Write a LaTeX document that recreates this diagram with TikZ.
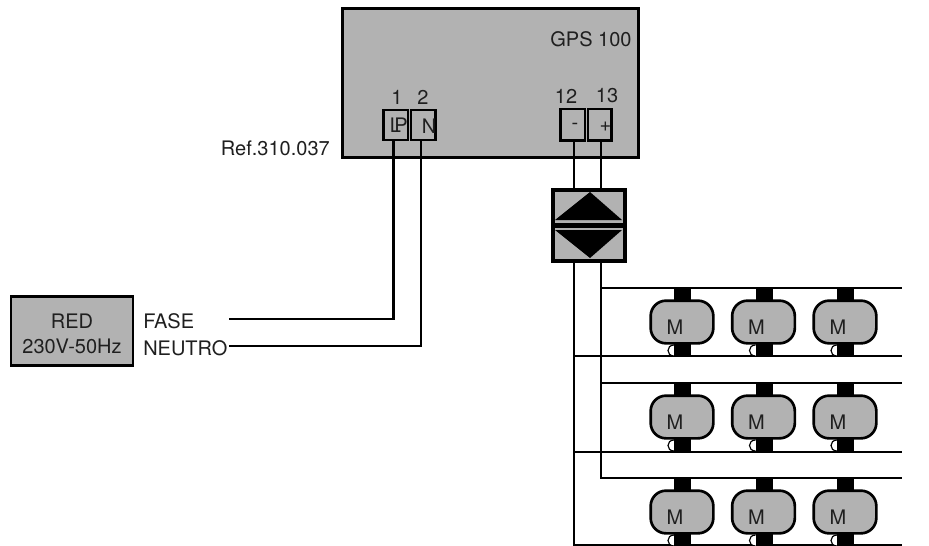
\documentclass[tikz,border=0pt]{standalone}
\usepackage{fontspec}
\setmainfont{TeX Gyre Heros}
\definecolor{panel}{gray}{0.70}
\tikzset{
  x=0.75pt,y=-0.75pt,
  lbl/.style={inner sep=0pt,font=\fontsize{15}{18.75}\selectfont,text=black!88},
  wire/.style={draw=black,line width=1.75pt},
  thinwire/.style={draw=black,line width=1.5pt},
  term/.style={draw=black,line width=1.9pt,fill=panel,inner sep=0pt},
}
\newcommand{\motor}[3]{%
  \draw[black,line width=0.9pt,fill=white] (#2-15.5,#3+57) .. controls (#2-23.5,#3+57) and (#2-23.5,#3+68) .. (#2-15.5,#3+68);
  \fill[black] (#2-15.5,#3) rectangle (#2+1.5,#3+68);
  \node[draw=black,line width=2pt,fill=panel,rounded corners=11.5pt,minimum width=47pt,minimum height=32pt,inner sep=0pt] (#1) at (#2-7.5,#3+34) {};
  \node[lbl] (#1t) at (#2-14.5,#3+39) {M};
}
\begin{document}
\begin{tikzpicture}
\useasboundingbox (0,0) rectangle (929,546);
% main
\node[draw=black,line width=2pt,fill=panel,minimum width=222pt,minimum height=111.5pt,inner sep=0pt] (gps) at (490.5,83) {};
\node[lbl] (gpst) at (591,39) {GPS 100};
\node[lbl,anchor=east] (ref) at (330,148) {Ref.310.037};
\node[lbl] (n1) at (397,97.5) {1};
\node[lbl] (n2) at (423,97.5) {2};
\node[lbl] (n12) at (566,96) {12};
\node[lbl] (n13) at (607,96) {13};
\node[term,minimum width=18.4pt,minimum height=22.5pt] (tp) at (395.7,125) {};
\node[term,minimum width=18.4pt,minimum height=22.5pt] (tn) at (423.2,125) {};
\node[term,minimum width=18.4pt,minimum height=23.6pt] (tm) at (572.7,124.5) {};
\node[term,minimum width=17.6pt,minimum height=23.6pt] (tpl) at (599.7,124.5) {};
\node[lbl] (tl) at (395.5,125.5) {L};
\node[lbl] (tpt) at (401,125.5) {P};
\node[lbl] (tnt) at (429,126) {N};
\node[lbl] (tmt) at (575,126) {-};
\node[lbl] (tplt) at (605.5,127) {+};
% bridge
\node[draw=black,line width=3pt,fill=panel,minimum width=54pt,minimum height=53.25pt,inner sep=0pt] (br) at (589,225.5) {};
\fill[black] (555,220) -- (590,192) -- (622,220) -- cycle;
\fill[black] (555,230) -- (590,258) -- (622,230) -- cycle;
\fill[black] (553,223) rectangle (625,228);
% wires
\coordinate (fa) at (229,319);
\coordinate (ne) at (229,346);
\draw[wire] (tp.south -| 393.5,0) -- (393.5,319) -- (fa);
\draw[wire] (tn.south -| 421,0) -- (421,346) -- (ne);
\draw[wire] (tm.south -| 574,0) -- (br.north -| 574,0);
\draw[wire] (tpl.south -| 601,0) -- (br.north -| 601,0);
% bus
\coordinate (a1) at (902,356);\coordinate (a2) at (902,452);\coordinate (a3) at (902,545);
\coordinate (b1) at (902,288);\coordinate (b2) at (902,383);\coordinate (b3) at (902,478);
\draw[thinwire] (br.south -| 574,0) -- (574,545) -- (a3);
\draw[thinwire] (br.south -| 601,0) -- (601,478) -- (b3);
\draw[thinwire] (574,356) -- (a1);
\draw[thinwire] (574,452) -- (a2);
\draw[thinwire] (601,288) -- (b1);
\draw[thinwire] (601,383) -- (b2);
% motors
\motor{m11}{689.5}{288}\motor{m12}{771}{288}\motor{m13}{852.5}{288}
\motor{m21}{689.5}{383}\motor{m22}{771}{383}\motor{m23}{852.5}{383}
\motor{m31}{689.5}{478}\motor{m32}{771}{478}\motor{m33}{852.5}{478}
% red
\node[draw=black,line width=2pt,fill=panel,minimum width=91.5pt,minimum height=51.5pt,inner sep=0pt] (red) at (72,331) {};
\node[lbl,align=center] (redt) at (72,333.5) {RED\\230V-50Hz};
\node[lbl,anchor=west] (fase) at (143,321) {FASE};
\node[lbl,anchor=west] (neu) at (143,348) {NEUTRO};
\end{tikzpicture}
\end{document}
